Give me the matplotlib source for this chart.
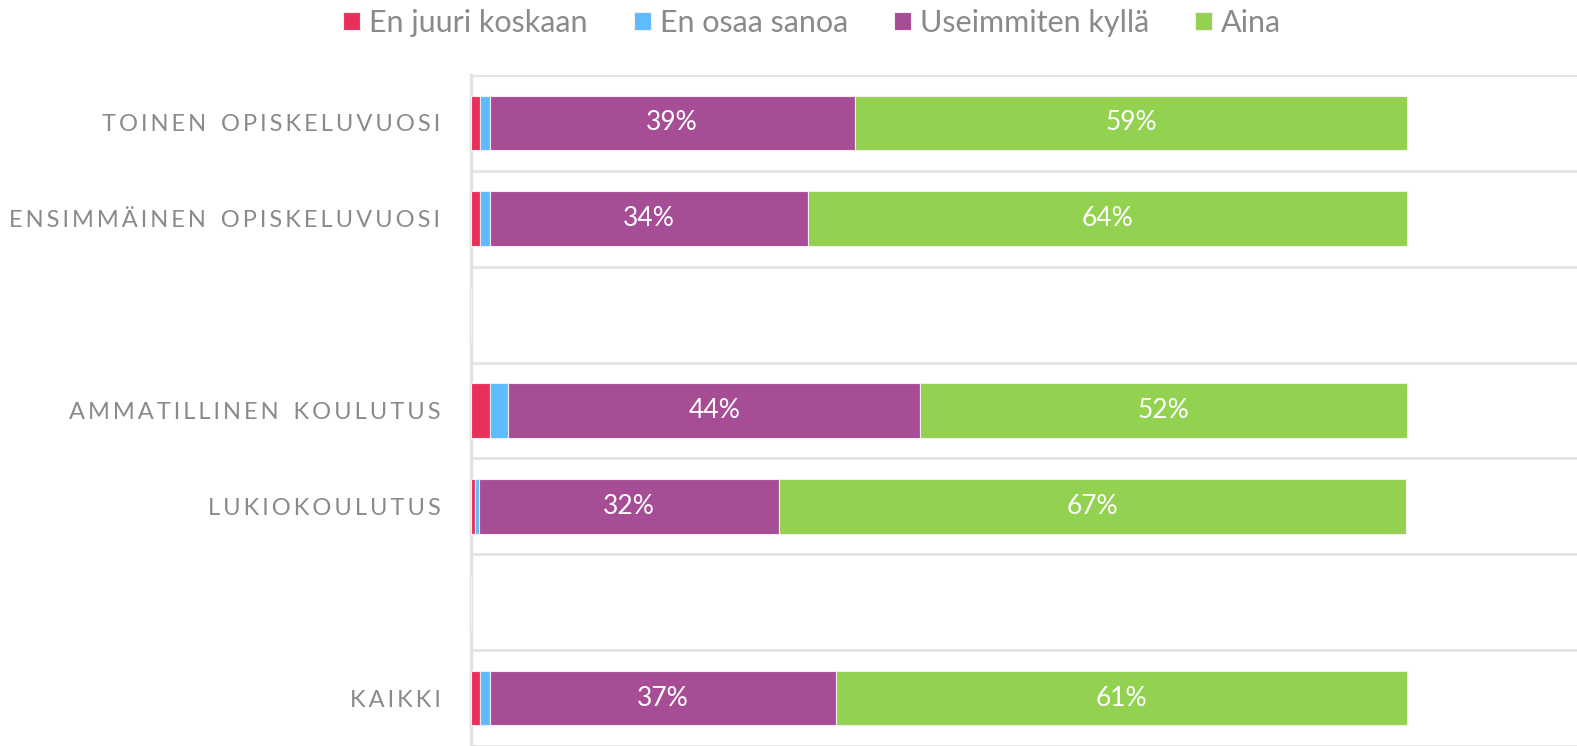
import matplotlib
matplotlib.use("Agg")
import matplotlib.pyplot as plt
import numpy as np

categories = ["TOINEN OPISKELUVUOSI", "ENSIMMÄINEN OPISKELUVUOSI", "",
              "AMMATILLINEN KOULUTUS", "LUKIOKOULUTUS", "", "KAIKKI"]
series_names = ["En juuri koskaan", "En osaa sanoa", "Useimmiten kyllä", "Aina"]
en_juuri_koskaan = [0.01, 0.01, 0, 0.02, 0.004, 0, 0.01]
en_osaa_sanoa = [0.01, 0.01, 0, 0.02, 0.005, 0, 0.01]
useimmiten_kylla = [0.39, 0.34, 0, 0.44, 0.32, 0, 0.37]
aina = [0.59, 0.64, 0, 0.52, 0.67, 0, 0.61]
colors = ["#E8305A", "#5EBBFE", "#A64D96", "#93D150"]

series = [en_juuri_koskaan, en_osaa_sanoa, useimmiten_kylla, aina]
label_series = {2, 3}

fig = plt.figure(figsize=(15.77, 7.46), dpi=100)
ax = fig.add_axes([471/1577, 0.0, 1 - 471/1577, 1 - 75/746])

font = ["Lato", "DejaVu Sans"]
y = np.arange(len(categories))
left = np.zeros(len(categories))
handles = []
for i, (vals, name, c) in enumerate(zip(series, series_names, colors)):
    vals = np.array(vals, dtype=float)
    h = ax.barh(y, vals, left=left, height=0.57, color=c, edgecolor="#f4eef3",
                linewidth=0.8, label=name, zorder=3)
    handles.append(h)
    if i in label_series:
        for yy, l, v in zip(y, left, vals):
            if v > 0:
                ax.text(l + v / 2, yy, f"{round(v*100):.0f}%", ha="center", va="center",
                        color="white", fontsize=19, family=font, zorder=4)
    left += vals

ax.set_xlim(0, (1577 - 471) / 936)
ax.set_ylim(6.5, -0.5)
ax.set_yticks(y)
spaced = ["\u2009".join(list(c)).replace("\u2009 \u2009", "\u2002\u2009") for c in categories]
ax.set_yticklabels(spaced, family=font, fontsize=17, color="#8a8a8a")
ax.tick_params(axis="y", length=0, pad=22)
ax.set_xticks([])
ax.set_yticks(np.arange(-0.5, 7.0, 1.0), minor=True)
ax.tick_params(axis="y", which="minor", length=0)
ax.grid(axis="y", which="minor", color="#e3e3e3", linewidth=2, zorder=0)
ax.grid(axis="y", which="major", visible=False)
for s in ["top", "right", "bottom"]:
    ax.spines[s].set_visible(False)
ax.spines["left"].set_color("#e3e3e3")
ax.spines["left"].set_linewidth(2.5)

fig.legend(handles=handles, labels=series_names, loc="upper center",
           bbox_to_anchor=(0.515, 1.025), ncol=4, frameon=False,
           prop={"family": font, "size": 22}, labelcolor="#8a8a8a",
           handlelength=0.55, handleheight=0.55, handletextpad=0.3, columnspacing=1.5)

fig.savefig("out.png", dpi=100)
